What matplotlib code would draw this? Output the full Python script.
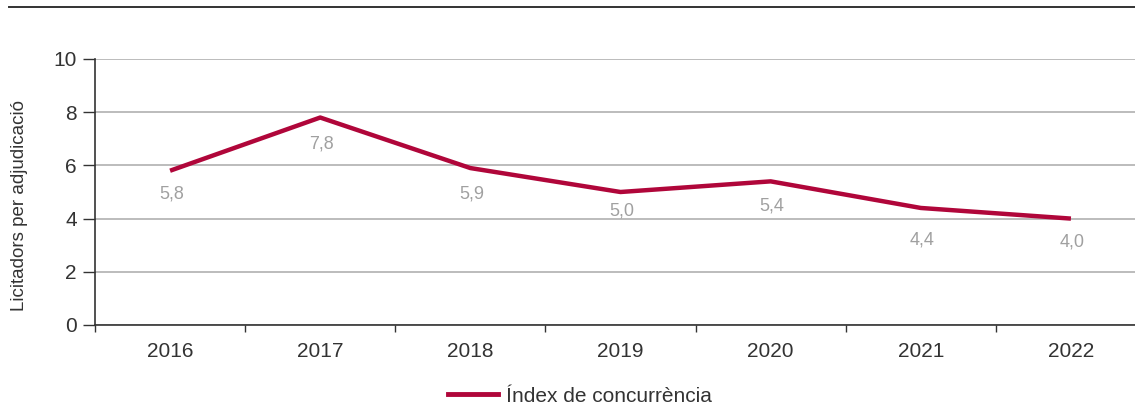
import matplotlib.pyplot as plt
from matplotlib.lines import Line2D

# dades
anys = ['2016', '2017', '2018', '2019', '2020', '2021', '2022']
index_concurrencia = [5.8, 7.8, 5.9, 5.0, 5.4, 4.4, 4.0]
etiquetes = ['5,8', '7,8', '5,9', '5,0', '5,4', '4,4', '4,0']
yticks = [0, 2, 4, 6, 8, 10]

VERMELL = '#B0063A'
TEXT = '#333333'

plt.rcParams['font.family'] = ['Liberation Sans', 'DejaVu Sans']

fig = plt.figure(figsize=(11.35, 4.05), dpi=100)
ax = fig.add_axes([95 / 1135, 80 / 405, 1051 / 1135, 266 / 405])

x = list(range(len(anys)))
ax.plot(x, index_concurrencia, color=VERMELL, lw=3.2, solid_joinstyle='round',
        solid_capstyle='butt', zorder=3)

# etiquetes de valor sota cada punt
desplac = [-17, -19, -19, -14, -18, -23, -17]
for xi, v, t, d in zip(x, index_concurrencia, etiquetes, desplac):
    ax.annotate(t, (xi, v), xytext=(1, d), textcoords='offset points',
                ha='center', va='center', fontsize=13, color='#A0A0A0')

ax.set_xlim(-0.5, len(anys) - 0.5)
ax.set_ylim(0, 10)
ax.set_yticks(yticks)
ax.set_yticklabels([str(v) for v in yticks], fontsize=15, color=TEXT)
ax.set_xticks(x)
ax.set_xticklabels(anys, fontsize=15, color=TEXT)
ax.tick_params(axis='x', length=0, pad=12)
ax.set_xticks([i - 0.5 for i in range(len(anys) + 1)], minor=True)
ax.tick_params(axis='x', which='minor', length=5, width=1, color=TEXT, direction='out')
ax.tick_params(axis='y', length=9, width=1, color=TEXT, pad=4)

ax.grid(axis='y', color='#B0B0B0', lw=1.2)
ax.set_axisbelow(True)
for s in ['top', 'right']:
    ax.spines[s].set_visible(False)
for s in ['left', 'bottom']:
    ax.spines[s].set_color(TEXT)
    ax.spines[s].set_linewidth(1.2)

ax.set_ylabel('Licitadors per adjudicació', fontsize=13.5, color=TEXT)
ax.yaxis.set_label_coords(-0.064, 0.45)

# línia superior
fig.add_artist(Line2D([9 / 1135, 1.0], [1 - 7 / 405, 1 - 7 / 405],
                      color=TEXT, lw=1.4, transform=fig.transFigure))

handle = Line2D([], [], color=VERMELL, lw=3.5)
fig.legend([handle], ['Índex de concurrència'], loc='center',
           bbox_to_anchor=(580 / 1135, 9 / 405), frameon=False,
           fontsize=15, handlelength=2.4, handletextpad=0.4,
           labelcolor=TEXT)

fig.savefig('out.png', dpi=100)
